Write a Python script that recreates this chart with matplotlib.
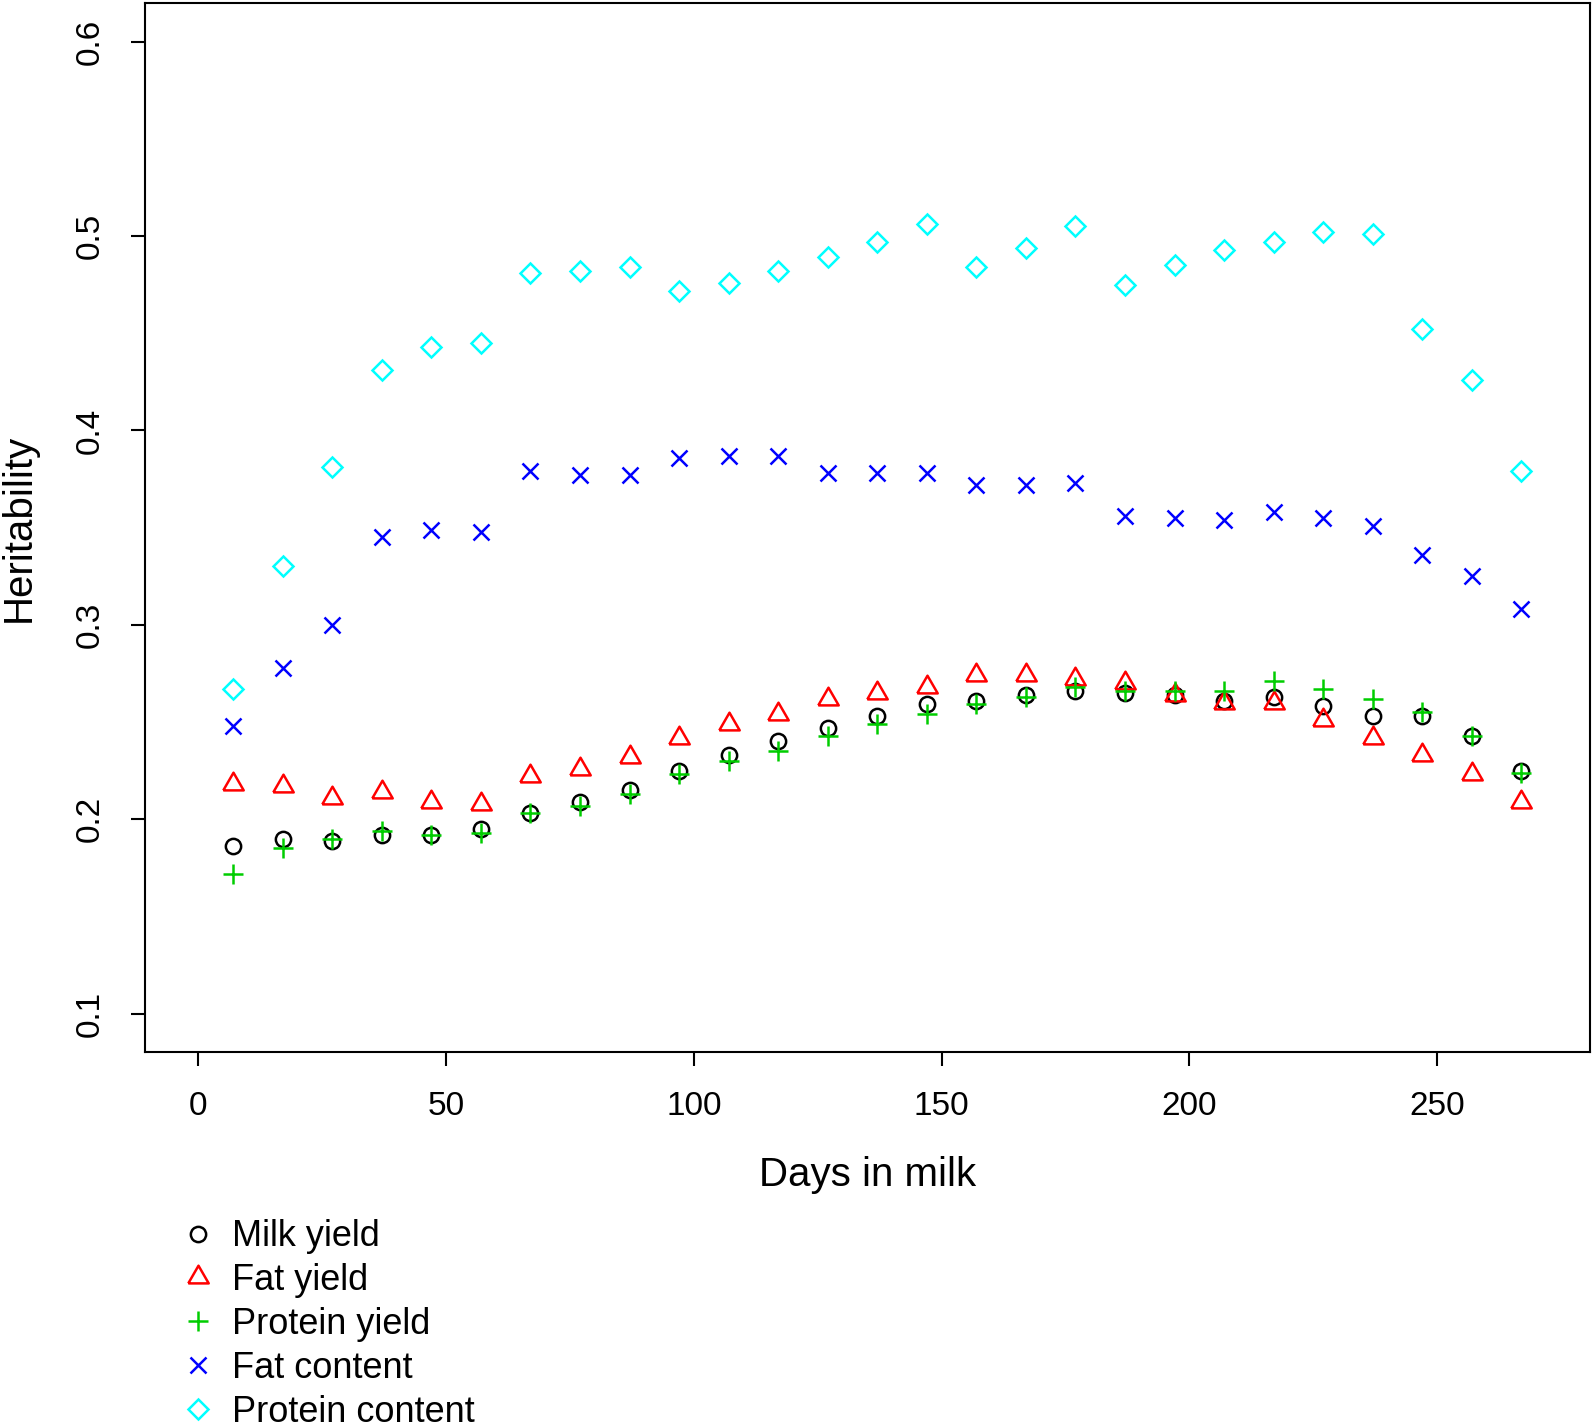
import numpy as np
import matplotlib
matplotlib.use("Agg")
import matplotlib.pyplot as plt

plt.rcParams['font.family'] = ['Liberation Sans', 'DejaVu Sans']

# days in milk (test day midpoints)
days = [7, 17, 27, 37, 47, 57, 67, 77, 87, 97, 107, 117, 127, 137,
        147, 157, 167, 177, 187, 197, 207, 217, 227, 237, 247, 257, 267]

milk_yield = [0.186, 0.190, 0.189, 0.192, 0.192, 0.195, 0.203, 0.209, 0.215,
              0.225, 0.233, 0.240, 0.247, 0.253, 0.259, 0.261, 0.264, 0.266,
              0.265, 0.264, 0.261, 0.263, 0.258, 0.253, 0.253, 0.243, 0.225]
fat_yield = [0.218, 0.217, 0.211, 0.214, 0.209, 0.208, 0.222, 0.226, 0.232,
             0.242, 0.249, 0.254, 0.262, 0.265, 0.268, 0.274, 0.274, 0.272,
             0.270, 0.264, 0.260, 0.260, 0.251, 0.242, 0.233, 0.223, 0.209]
protein_yield = [0.172, 0.185, 0.190, 0.194, 0.192, 0.193, 0.203, 0.207, 0.213,
                 0.223, 0.230, 0.235, 0.243, 0.249, 0.254, 0.259, 0.263, 0.268,
                 0.266, 0.266, 0.266, 0.271, 0.267, 0.262, 0.255, 0.243, 0.224]
fat_content = [0.248, 0.278, 0.300, 0.345, 0.349, 0.348, 0.379, 0.377, 0.377,
               0.386, 0.387, 0.387, 0.378, 0.378, 0.378, 0.372, 0.372, 0.373,
               0.356, 0.355, 0.354, 0.358, 0.355, 0.351, 0.336, 0.325, 0.308]
protein_content = [0.267, 0.330, 0.381, 0.431, 0.443, 0.445, 0.481, 0.482, 0.484,
                   0.472, 0.476, 0.482, 0.489, 0.497, 0.506, 0.484, 0.494, 0.505,
                   0.475, 0.485, 0.493, 0.497, 0.502, 0.501, 0.452, 0.426, 0.379]

labels = ["Milk yield", "Fat yield", "Protein yield", "Fat content", "Protein content"]
colors = ["black", "red", "#00CD00", "blue", "cyan"]

# equilateral-ish triangle like R's pch 2
tri = [(-1, -0.577), (1, -0.577), (0, 1.155), (-1, -0.577)]
markers = ["o", tri, "+", "x", "D"]
sizes = [11, 17, 14.5, 11, 10]

fig = plt.figure(figsize=(15.93, 14.26), dpi=100)
ax = fig.add_axes([0.091, 0.262, 0.907, 0.736])

series = [milk_yield, fat_yield, protein_yield, fat_content, protein_content]
handles = []
for vals, lab, c, m, s in zip(series, labels, colors, markers, sizes):
    h, = ax.plot(days, vals, linestyle="none", marker=m, markersize=s,
                 markerfacecolor="none", markeredgecolor=c, markeredgewidth=1.8,
                 label=lab)
    handles.append(h)

ax.set_xlim(-10.8, 280.8)
ax.set_ylim(0.08, 0.62)
ax.set_xticks([0, 50, 100, 150, 200, 250])
ax.set_yticks([0.1, 0.2, 0.3, 0.4, 0.5, 0.6])
ax.set_yticklabels(["0.1", "0.2", "0.3", "0.4", "0.5", "0.6"], rotation=90, va="center")
ax.tick_params(axis="both", length=10, width=1.5, labelsize=24)
ax.tick_params(axis="x", pad=18)
ax.tick_params(axis="y", pad=18)
for sp in ax.spines.values():
    sp.set_linewidth(1.5)

ax.set_xlabel("Days in milk", fontsize=29, labelpad=24)
ax.set_ylabel("Heritability", fontsize=29, labelpad=27)

fig.legend(handles=handles, labels=labels, loc="upper left",
           bbox_to_anchor=(0.113, 0.145), frameon=False, fontsize=26,
           handlelength=1.0, handletextpad=0.43, labelspacing=0.245,
           borderpad=0, borderaxespad=0)

fig.savefig("out.png", dpi=100)
